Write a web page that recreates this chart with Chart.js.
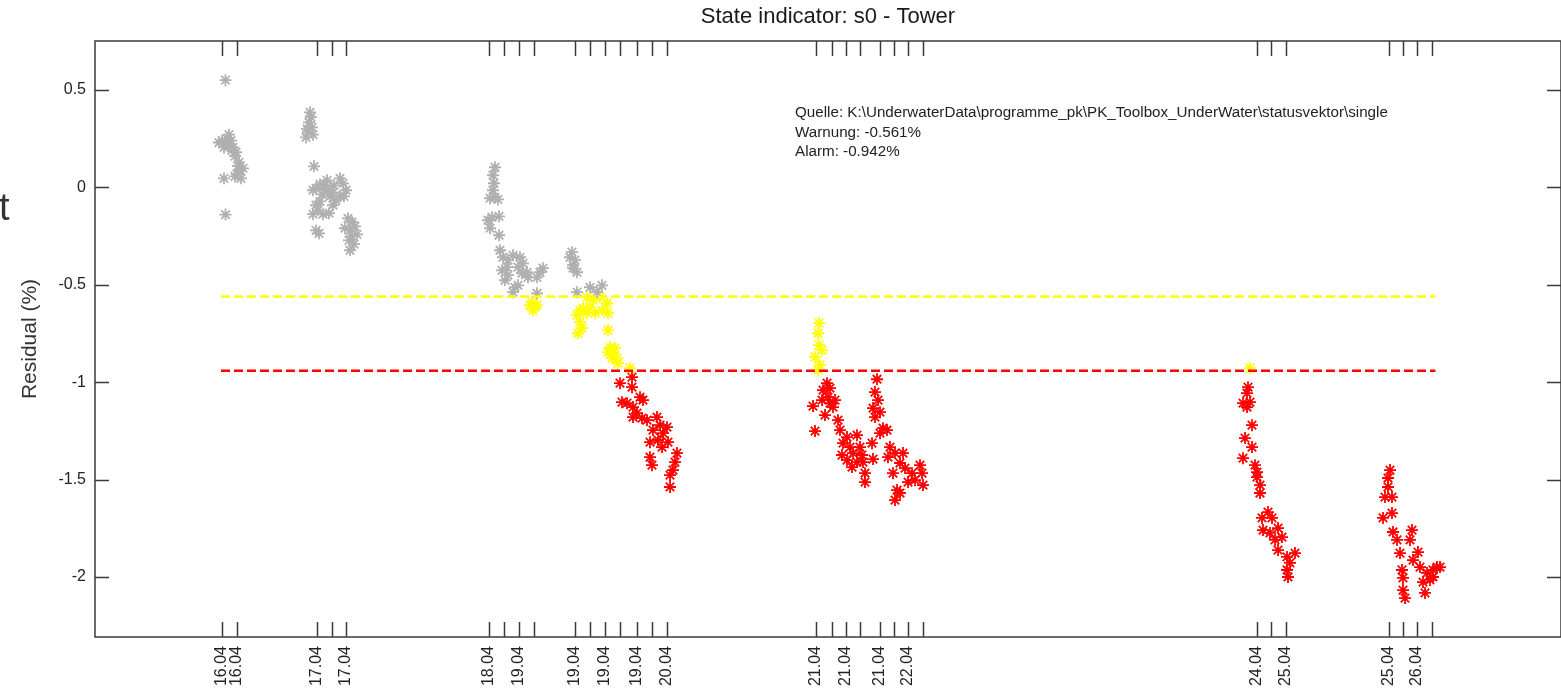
<!DOCTYPE html>
<html>
<head>
<meta charset="utf-8">
<title>State indicator: s0 - Tower</title>
<script src="https://cdn.jsdelivr.net/npm/chart.js@4.4.0/dist/chart.umd.min.js"></script>
<style>
  html, body { margin: 0; padding: 0; background: #fff; overflow: hidden; }
  .chart-container { position: relative; width: 1561px; height: 690px; }
</style>
</head>
<body>
<div class="chart-container"><canvas id="chart"></canvas></div>
<script>
// x: time axis in hours, y: residual in %
var xTicks = [25.3, 28.3, 44.4, 47.3, 50.2, 78.7, 81.7, 84.7, 87.7, 96.0, 99.0, 101.9, 104.9, 108.4, 111.3, 114.3,
  144.2, 147.3, 150.1, 152.9, 156.9, 159.7, 162.5, 165.5, 232.4, 235.2, 238.2, 258.8, 261.6, 264.4, 267.4];
var xTickLabels = ['16.04', '16.04', '17.04', '', '17.04', '18.04', '', '19.04', '', '19.04', '', '19.04', '', '19.04', '', '20.04',
  '21.04', '', '21.04', '', '21.04', '', '22.04', '', '24.04', '', '25.04', '25.04', '', '26.04', ''];
var yTicks = [-2, -1.5, -1, -0.5, 0, 0.5];

var warnLevel = -0.561;
var alarmLevel = -0.942;
var levelRange = [25.2, 268.1];

var grayPts = [
  [26.1, 0.55], [24.8, 0.23], [25.4, 0.24], [26.0, 0.23], [26.4, 0.25], [26.8, 0.27], [27.2, 0.24], [26.6, 0.21],
  [25.8, 0.205], [27.6, 0.205], [28.2, 0.18], [27.4, 0.19], [28.0, 0.16], [28.6, 0.11], [29.0, 0.087], [28.4, 0.067],
  [29.2, 0.046], [28.0, 0.056], [29.6, 0.097], [28.8, 0.128], [25.8, 0.046], [26.1, -0.14],
  [43.0, 0.385], [43.2, 0.36], [42.8, 0.333], [43.4, 0.308], [42.6, 0.287], [43.6, 0.27], [42.2, 0.256], [42.4, 0.30],
  [43.8, 0.108], [43.6, -0.015], [44.2, -0.005], [45.0, 0.015], [45.8, 0.005], [46.6, -0.015], [45.4, -0.036],
  [47.0, -0.046], [47.6, -0.026], [47.8, 0.01], [46.4, 0.036], [48.2, -0.067], [49.0, -0.046], [49.6, 0.02],
  [49.0, 0.046], [45.0, -0.072], [44.2, -0.092], [44.6, -0.118], [45.6, -0.138], [46.8, -0.133], [43.6, -0.138],
  [47.6, -0.092], [50.2, -0.015], [49.8, -0.046], [44.8, -0.236], [44.2, -0.221], [50.6, -0.159], [51.4, -0.179],
  [52.0, -0.2], [51.0, -0.221], [50.0, -0.21], [52.4, -0.241], [51.4, -0.251], [50.8, -0.272], [51.8, -0.292], [51.0, -0.323],
  [80.0, 0.103], [79.6, 0.062], [79.8, 0.021], [79.6, -0.015], [80.0, -0.051], [80.6, -0.062], [79.0, -0.056],
  [79.4, -0.154], [78.6, -0.169], [80.8, -0.149], [79.0, -0.21], [80.8, -0.246], [81.0, -0.323], [81.6, -0.359],
  [82.6, -0.374], [83.6, -0.349], [85.0, -0.359], [85.6, -0.39], [84.6, -0.41], [82.4, -0.41], [81.4, -0.426],
  [86.4, -0.436], [85.4, -0.441], [89.0, -0.436], [88.4, -0.462], [89.6, -0.415], [82.6, -0.451], [82.0, -0.477],
  [86.6, -0.462], [84.0, -0.513], [83.6, -0.538], [84.6, -0.503], [88.4, -0.544],
  [95.4, -0.333], [95.0, -0.359], [96.0, -0.374], [95.6, -0.4], [96.4, -0.436], [95.6, -0.415], [96.4, -0.538],
  [99.0, -0.513], [101.4, -0.503], [100.4, -0.538]
];

var yellowPts = [
  [87.4, -0.59], [88.0, -0.615], [87.6, -0.631], [88.4, -0.605], [87.0, -0.605],
  [98.4, -0.564], [99.6, -0.579], [101.0, -0.564], [102.4, -0.595], [97.0, -0.631], [96.4, -0.656], [97.6, -0.621],
  [99.0, -0.615], [100.0, -0.646], [101.4, -0.631], [102.6, -0.646], [97.0, -0.692], [96.6, -0.749], [97.4, -0.723],
  [98.4, -0.646], [102.6, -0.733], [103.0, -0.821], [103.6, -0.851], [104.4, -0.877], [103.4, -0.877], [104.6, -0.903],
  [102.6, -0.846], [104.0, -0.826], [107.0, -0.928],
  [144.8, -0.697], [144.6, -0.749], [144.8, -0.81], [145.4, -0.836], [144.0, -0.872], [145.0, -0.913], [144.6, -0.938],
  [231.0, -0.928]
];

var redPts = [
  [105.0, -1.005], [107.4, -0.974], [107.4, -1.026], [105.4, -1.103], [106.4, -1.108], [107.6, -1.128], [109.0, -1.077],
  [109.6, -1.092], [108.4, -1.159], [109.4, -1.185], [107.6, -1.179], [110.4, -1.195], [112.4, -1.179], [113.0, -1.221],
  [111.6, -1.246], [113.6, -1.262], [112.6, -1.297], [114.6, -1.308], [111.0, -1.308], [113.4, -1.333], [114.4, -1.231],
  [111.0, -1.385], [111.4, -1.426], [116.4, -1.364], [116.0, -1.41], [115.6, -1.451], [115.0, -1.477], [115.0, -1.538],
  [146.4, -1.005], [145.6, -1.041], [147.0, -1.031], [146.6, -1.077], [145.4, -1.092], [147.6, -1.128], [143.6, -1.123],
  [146.0, -1.169], [147.0, -1.108], [148.0, -1.092], [144.0, -1.251], [148.6, -1.195], [149.0, -1.246], [150.4, -1.282],
  [152.4, -1.272], [149.6, -1.313], [151.0, -1.333], [153.0, -1.333], [149.4, -1.374], [151.6, -1.364], [153.4, -1.374],
  [150.4, -1.4], [152.4, -1.41], [151.4, -1.436], [153.6, -1.41], [154.0, -1.467], [154.0, -1.513], [155.6, -1.395],
  [156.4, -0.985], [156.0, -1.051], [156.6, -1.092], [155.6, -1.133], [157.0, -1.154], [156.0, -1.179], [157.6, -1.236],
  [157.0, -1.262], [158.4, -1.246], [155.4, -1.313], [159.0, -1.333], [160.0, -1.364], [158.6, -1.385], [161.6, -1.364],
  [161.0, -1.415], [159.6, -1.467], [162.0, -1.441], [163.4, -1.467], [165.0, -1.426], [165.4, -1.467], [164.0, -1.503],
  [162.6, -1.513], [165.6, -1.528], [161.0, -1.569], [160.0, -1.605], [160.4, -1.554],
  [230.6, -1.026], [230.4, -1.056], [231.0, -1.103], [229.6, -1.108], [230.4, -1.128], [231.4, -1.221], [230.0, -1.287],
  [231.4, -1.333], [229.6, -1.39], [232.0, -1.426], [232.4, -1.462], [232.4, -1.487], [233.0, -1.528], [233.0, -1.569],
  [234.6, -1.667], [233.4, -1.697], [235.4, -1.697], [233.6, -1.759], [235.0, -1.774], [236.6, -1.749], [237.4, -1.795],
  [236.0, -1.81], [236.6, -1.862], [238.4, -1.897], [240.0, -1.877], [239.0, -1.928], [238.4, -1.964], [238.6, -2.0],
  [259.0, -1.451], [258.6, -1.492], [258.6, -1.538], [258.0, -1.59], [259.4, -1.59], [259.4, -1.672], [257.6, -1.697],
  [259.6, -1.769], [260.4, -1.81], [261.0, -1.877], [261.4, -1.964], [261.6, -2.005], [261.6, -2.067], [262.0, -2.108],
  [263.4, -1.759], [263.0, -1.81], [264.6, -1.872], [263.6, -1.913], [265.0, -1.949], [266.4, -1.979], [267.6, -1.964],
  [268.4, -1.949], [265.6, -2.026], [267.0, -2.015], [266.0, -2.082], [267.6, -2.0], [269.0, -1.949]
];

var infoLines = [
  'Quelle: K:\\UnderwaterData\\programme_pk\\PK_Toolbox_UnderWater\\statusvektor\\single',
  'Warnung: -0.561%',
  'Alarm: -0.942%'
];

var fontFamily = "'Liberation Sans', Arial, sans-serif";

function toXY(list) {
  return list.map(function (p) { return { x: p[0], y: p[1] }; });
}

function starSet(label, pts, color) {
  return {
    type: 'scatter',
    label: label,
    data: toXY(pts),
    pointStyle: 'star',
    pointRadius: 6,
    borderWidth: 1.8,
    borderColor: color,
    backgroundColor: color
  };
}

function levelSet(label, value, color) {
  return {
    type: 'line',
    label: label,
    data: [{ x: levelRange[0], y: value }, { x: levelRange[1], y: value }],
    borderColor: color,
    borderWidth: 2.5,
    borderDash: [9, 4],
    pointRadius: 0,
    fill: false
  };
}

function noPadding(scale) {
  scale.paddingLeft = 0;
  scale.paddingRight = 0;
  scale.paddingTop = 0;
  scale.paddingBottom = 0;
}

// box, inward tick marks and the text block
var framePlugin = {
  id: 'frame',
  afterDraw: function (chart) {
    var ctx = chart.ctx;
    var a = chart.chartArea;
    var xs = chart.scales.x, ys = chart.scales.y;
    ctx.save();
    ctx.strokeStyle = '#3a3a3a';
    ctx.lineWidth = 1.5;
    ctx.strokeRect(a.left, a.top, a.right - a.left, a.bottom - a.top);
    ctx.beginPath();
    xTicks.forEach(function (v) {
      var px = Math.round(xs.getPixelForValue(v)) + 0.5;
      ctx.moveTo(px, a.top); ctx.lineTo(px, a.top + 15);
      ctx.moveTo(px, a.bottom); ctx.lineTo(px, a.bottom - 15);
    });
    yTicks.forEach(function (v) {
      var py = Math.round(ys.getPixelForValue(v)) + 0.5;
      ctx.moveTo(a.left, py); ctx.lineTo(a.left + 14, py);
      ctx.moveTo(a.right, py); ctx.lineTo(a.right - 14, py);
    });
    ctx.stroke();

    ctx.fillStyle = '#222';
    ctx.font = '15.2px ' + fontFamily;
    ctx.textBaseline = 'middle';
    ctx.textAlign = 'left';
    infoLines.forEach(function (t, i) {
      ctx.fillText(t, 795, 113 + i * 19.5);
    });

    ctx.fillStyle = '#333';
    ctx.font = '38px ' + fontFamily;
    ctx.textBaseline = 'alphabetic';
    ctx.fillText('t', -1, 220);
    ctx.restore();
  }
};

new Chart(document.getElementById('chart'), {
  type: 'scatter',
  data: {
    datasets: [
      levelSet('Warnung', warnLevel, '#ffff00'),
      levelSet('Alarm', alarmLevel, '#ff0000'),
      starSet('ok', grayPts, '#b0b0b0'),
      starSet('warnung', yellowPts, '#ffff00'),
      starSet('alarm', redPts, '#ff0000')
    ]
  },
  options: {
    responsive: true,
    maintainAspectRatio: false,
    animation: false,
    events: [],
    layout: { padding: 0, autoPadding: false },
    plugins: {
      legend: { display: false },
      tooltip: { enabled: false },
      title: {
        display: true,
        text: 'State indicator: s0 - Tower',
        fullSize: false,
        color: '#1a1a1a',
        font: { family: fontFamily, size: 22, weight: 'normal' },
        padding: { top: 4, bottom: 10.6 }
      }
    },
    scales: {
      x: {
        type: 'linear',
        min: 0,
        max: 293.2,
        grid: { display: false, drawTicks: false },
        border: { display: false },
        afterBuildTicks: function (scale) {
          scale.ticks = xTicks.map(function (v) { return { value: v }; });
        },
        afterFit: function (scale) {
          scale.height = 53;
          noPadding(scale);
        },
        ticks: {
          autoSkip: false,
          maxRotation: 90,
          minRotation: 90,
          padding: 9,
          color: '#222',
          font: { family: fontFamily, size: 16 },
          callback: function (value, index) { return xTickLabels[index]; }
        }
      },
      y: {
        type: 'linear',
        min: -2.308,
        max: 0.751,
        grid: { display: false, drawTicks: false },
        border: { display: false },
        afterBuildTicks: function (scale) {
          scale.ticks = yTicks.map(function (v) { return { value: v }; });
        },
        afterFit: function (scale) {
          scale.width = 95;
          noPadding(scale);
        },
        title: {
          display: true,
          text: 'Residual (%)',
          color: '#333',
          font: { family: fontFamily, size: 21 },
          padding: { top: 18, bottom: 0 }
        },
        ticks: {
          padding: 9,
          color: '#222',
          font: { family: fontFamily, size: 16 },
          callback: function (value) { return String(value); }
        }
      }
    }
  },
  plugins: [framePlugin]
});
</script>
</body>
</html>
